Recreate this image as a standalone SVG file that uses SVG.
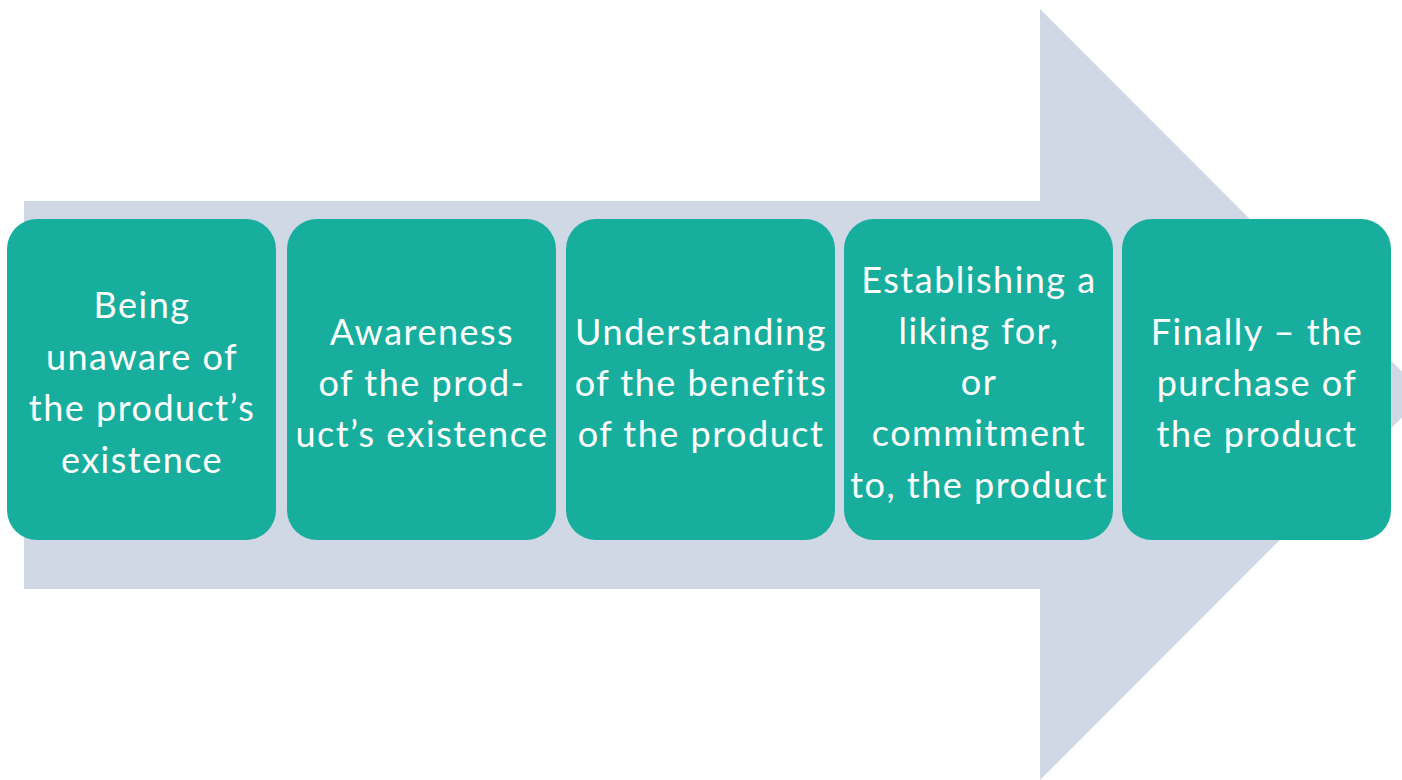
<svg xmlns="http://www.w3.org/2000/svg" width="1402" height="780" viewBox="0 0 1402 780">
<style>
.box{fill:#18AE9E}
.t{font-family:"Lato","Open Sans","Liberation Sans",sans-serif;font-size:36px;letter-spacing:1.5px;fill:#FFFFFF;text-anchor:middle}
</style>
<rect width="1402" height="780" fill="#FFFFFF"/>
<g id="arrow">
<polygon points="24,201 1040,201 1040,9 1425,394.5 1040,780 1040,589 24,589" fill="#D0D8E6"/>
</g>
<g id="connectors"></g>
<g id="n1">
<rect class="box" x="7" y="219" width="269" height="321" rx="30"/>
<text class="t" x="142" y="318">Being</text>
<text class="t" x="142" y="369.7">unaware of</text>
<text class="t" x="142" y="421.4">the product’s</text>
<text class="t" x="142" y="473">existence</text>
</g>
<g id="n2">
<rect class="box" x="287" y="219" width="269" height="321" rx="30"/>
<text class="t" x="422" y="345">Awareness</text>
<text class="t" x="422" y="396">of the prod-</text>
<text class="t" x="422" y="447">uct’s existence</text>
</g>
<g id="n3">
<rect class="box" x="566" y="219" width="269" height="321" rx="30"/>
<text class="t" x="701" y="345">Understanding</text>
<text class="t" x="701" y="396">of the benefits</text>
<text class="t" x="701" y="447">of the product</text>
</g>
<g id="n4">
<rect class="box" x="844" y="219" width="269" height="321" rx="30"/>
<text class="t" x="979" y="292.5">Establishing a</text>
<text class="t" x="979" y="343.8">liking for,</text>
<text class="t" x="979" y="395">or</text>
<text class="t" x="979" y="446.3">commitment</text>
<text class="t" x="979" y="497.6">to, the product</text>
</g>
<g id="n5">
<rect class="box" x="1122" y="219" width="269" height="321" rx="30"/>
<text class="t" x="1257" y="345">Finally – the</text>
<text class="t" x="1257" y="396">purchase of</text>
<text class="t" x="1257" y="447">the product</text>
</g>
</svg>
